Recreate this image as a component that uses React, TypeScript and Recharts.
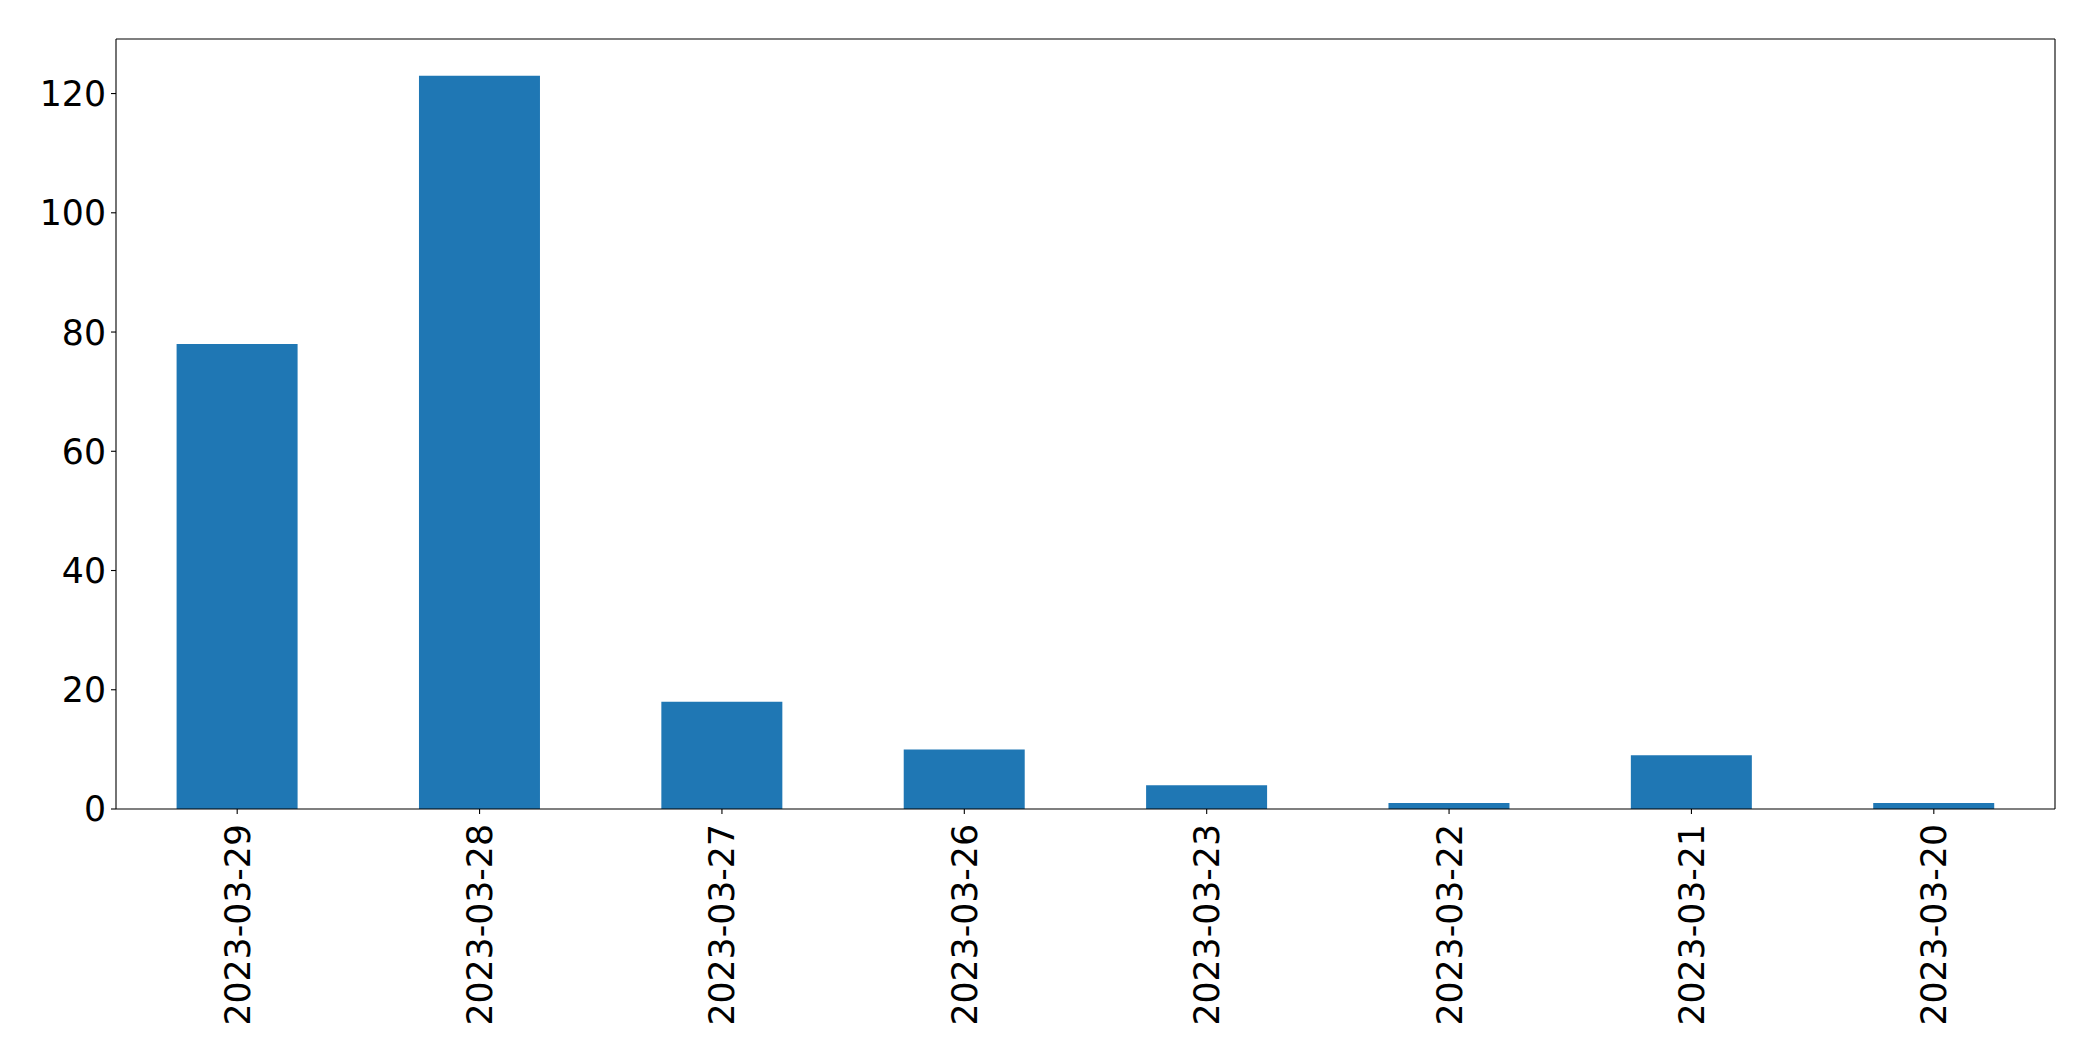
import React from 'react';
import { BarChart, Bar, XAxis, YAxis } from 'recharts';

const categories = ['2023-03-29', '2023-03-28', '2023-03-27', '2023-03-26', '2023-03-23', '2023-03-22', '2023-03-21', '2023-03-20'];
const counts = [78, 123, 18, 10, 4, 1, 9, 1];
const yTicks = [0, 20, 40, 60, 80, 100, 120];

const data = categories.map((c, i) => ({ date: c, count: counts[i] }));

const FONT = 'DejaVu Sans';
const FS = 34.7;

const XTick = (props: any) => {
  const { x, y, payload } = props;
  return (
    <text x={x} y={y} transform={`rotate(-90 ${x} ${y})`} textAnchor="end" dy="0.36em" fontFamily={FONT} fontSize={FS} fill="#000">
      {payload.value}
    </text>
  );
};

const YTick = (props: any) => {
  const { x, y, payload } = props;
  return (
    <text x={x} y={y} textAnchor="end" dy="0.36em" fontFamily={FONT} fontSize={FS} fill="#000">
      {payload.value}
    </text>
  );
};

export default function App() {
  return (
    <div style={{ position: 'absolute', left: 0, top: 0, background: '#fff' }}>
      <BarChart width={2093} height={1061} data={data} margin={{ top: 38, right: 37, left: 0, bottom: 0 }} barCategoryGap="25%">
        <XAxis dataKey="date" xAxisId="bottom" height={252} tick={<XTick />} tickSize={5} tickMargin={10} axisLine={{ stroke: '#000', strokeWidth: 1.1 }} tickLine={{ stroke: '#000', strokeWidth: 1.1 }} interval={0} />
        <XAxis dataKey="date" xAxisId="top" orientation="top" height={1} tick={false} tickLine={false} axisLine={{ stroke: '#000', strokeWidth: 1.1 }} />
        <YAxis yAxisId="left" width={116} domain={[0, 129.15]} ticks={yTicks} tick={<YTick />} tickSize={5} tickMargin={5} axisLine={{ stroke: '#000', strokeWidth: 1.1 }} tickLine={{ stroke: '#000', strokeWidth: 1.1 }} allowDataOverflow />
        <YAxis yAxisId="right" orientation="right" width={1} domain={[0, 129.15]} tick={false} tickLine={false} axisLine={{ stroke: '#000', strokeWidth: 1.1 }} />
        <Bar dataKey="count" xAxisId="bottom" yAxisId="left" fill="#1f77b4" isAnimationActive={false} />
      </BarChart>
    </div>
  );
}
